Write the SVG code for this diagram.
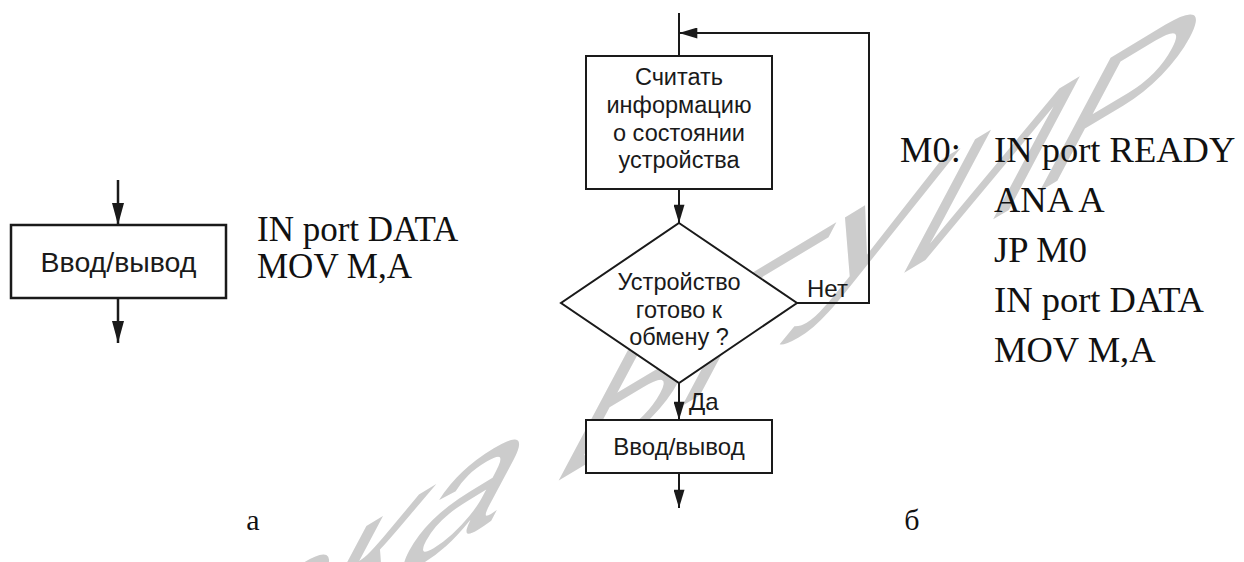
<svg xmlns="http://www.w3.org/2000/svg" width="1244" height="562" viewBox="0 0 1244 562">
<style>
.bg{fill:#ffffff}
.wm{fill:#cccccc;font-family:"Liberation Sans",Arial,sans-serif;font-size:220px}
.box{fill:#ffffff;stroke:#1a1a1a;stroke-width:2}
.boxl{fill:#ffffff;stroke:#1a1a1a;stroke-width:2.5}
.conn{fill:none;stroke:#1a1a1a;stroke-width:2}
.connl{fill:none;stroke:#1a1a1a;stroke-width:2.5}
.fs{font-family:"Liberation Sans",Arial,sans-serif;fill:#1a1a1a;text-anchor:middle}
.tm{font-family:"Liberation Serif","Times New Roman",serif;fill:#111111}
</style>
<defs>
<marker id="ah" viewBox="0 0 20 12" refX="20" refY="6" markerWidth="20" markerHeight="11" markerUnits="userSpaceOnUse" orient="auto">
<path d="M0,0 L20,6 L0,12 Z" fill="#1a1a1a"/>
</marker>
<marker id="ahl" viewBox="0 0 22 12" refX="22" refY="6" markerWidth="22" markerHeight="12" markerUnits="userSpaceOnUse" orient="auto">
<path d="M0,0 L22,6 L0,12 Z" fill="#1a1a1a"/>
</marker>
</defs>
<rect class="bg" x="0" y="0" width="1244" height="562"/>
<g id="watermark">
<text class="wm" transform="matrix(0.857 -0.515 -0.469 0.883 1150 125)" x="0" y="0" text-anchor="end">Библиотека БГУИР</text>
</g>
<g id="connectors">
<line class="connl" x1="118" y1="180" x2="118" y2="225" marker-end="url(#ahl)"/>
<line class="connl" x1="118" y1="298" x2="118" y2="343" marker-end="url(#ahl)"/>
<line class="conn" x1="679" y1="13" x2="679" y2="56"/>
<path class="conn" d="M797,303 H869 V33 H679" marker-end="url(#ah)"/>
<line class="conn" x1="679" y1="189" x2="679" y2="223" marker-end="url(#ah)"/>
<line class="conn" x1="679" y1="383" x2="679" y2="420" marker-end="url(#ah)"/>
<line class="conn" x1="679" y1="473" x2="679" y2="508" marker-end="url(#ah)"/>
</g>
<g id="node-io-a">
<rect class="boxl" x="11" y="225" width="215" height="73"/>
<text class="fs" x="118.5" y="272" font-size="28.5">Ввод/вывод</text>
</g>
<g id="code-a">
<text class="tm" x="257" y="241" font-size="35">IN port DATA</text>
<text class="tm" x="257" y="278" font-size="35">MOV M,A</text>
</g>
<g id="node-read">
<rect class="box" x="586" y="56" width="186" height="133"/>
<text class="fs" x="679" y="85" font-size="23.5">Считать</text>
<text class="fs" x="679" y="113" font-size="23.5">информацию</text>
<text class="fs" x="679" y="140.5" font-size="23.5">о состоянии</text>
<text class="fs" x="679" y="168" font-size="23.5">устройства</text>
</g>
<g id="node-ready">
<polygon class="box" points="679,223 797,303 679,383 561,303"/>
<text class="fs" x="679" y="290" font-size="23.5">Устройство</text>
<text class="fs" x="679" y="317.5" font-size="23.5">готово к</text>
<text class="fs" x="679" y="345" font-size="23.5">обмену ?</text>
</g>
<g id="labels">
<text class="fs" x="807" y="297" font-size="24" style="text-anchor:start">Нет</text>
<text class="fs" x="689" y="410" font-size="24" style="text-anchor:start">Да</text>
</g>
<g id="node-io-b">
<rect class="box" x="586" y="420" width="186" height="53"/>
<text class="fs" x="679" y="455" font-size="24">Ввод/вывод</text>
</g>
<g id="code-b">
<text class="tm" x="900" y="162" font-size="36.5">M0:</text>
<text class="tm" x="994" y="162" font-size="36.5">IN port READY</text>
<text class="tm" x="994" y="212" font-size="36.5">ANA A</text>
<text class="tm" x="994" y="262" font-size="36.5">JP M0</text>
<text class="tm" x="994" y="312" font-size="36.5">IN port DATA</text>
<text class="tm" x="994" y="362" font-size="36.5">MOV M,A</text>
</g>
<g id="captions">
<text class="tm" x="253" y="530" font-size="30" text-anchor="middle">а</text>
<text class="tm" x="912" y="530" font-size="30" text-anchor="middle">б</text>
</g>
</svg>
